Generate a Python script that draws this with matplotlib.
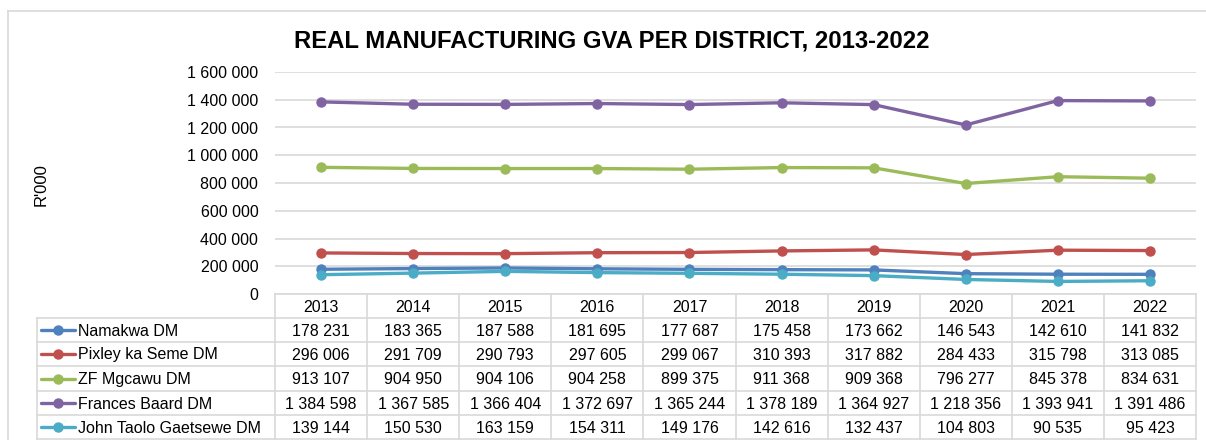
import matplotlib.pyplot as plt
import matplotlib.lines as mlines

plt.rcParams['font.family'] = ['Liberation Sans', 'DejaVu Sans']

years = ['2013', '2014', '2015', '2016', '2017', '2018', '2019', '2020', '2021', '2022']
districts = ['Namakwa DM', 'Pixley ka Seme DM', 'ZF Mgcawu DM', 'Frances Baard DM', 'John Taolo Gaetsewe DM']
namakwa = [178231, 183365, 187588, 181695, 177687, 175458, 173662, 146543, 142610, 141832]
pixley = [296006, 291709, 290793, 297605, 299067, 310393, 317882, 284433, 315798, 313085]
zf_mgcawu = [913107, 904950, 904106, 904258, 899375, 911368, 909368, 796277, 845378, 834631]
frances = [1384598, 1367585, 1366404, 1372697, 1365244, 1378189, 1364927, 1218356, 1393941, 1391486]
john_taolo = [139144, 150530, 163159, 154311, 149176, 142616, 132437, 104803, 90535, 95423]
series = [namakwa, pixley, zf_mgcawu, frances, john_taolo]
colors = ['#4f81bd', '#c0504d', '#9bbb59', '#8064a2', '#4bacc6']
yticks = [0, 200000, 400000, 600000, 800000, 1000000, 1200000, 1400000, 1600000]

W, H = 1206, 440
fig = plt.figure(figsize=(W / 100, H / 100), dpi=100)

def fx(px):
    return px / W

def fy(py):
    return 1 - py / H

# plot area
x0, x1, ytop, ybot = 275, 1196, 72, 294
ax = fig.add_axes([fx(x0), fy(ybot), fx(x1) - fx(x0), fy(ytop) - fy(ybot)])
xs = list(range(len(years)))
for vals, c, name in zip(series, colors, districts):
    ax.plot(xs, vals, color=c, lw=2.4, marker='o', ms=6.5, label=name, solid_capstyle='round')
ax.set_xlim(-0.5, len(years) - 0.5)
ax.set_ylim(0, 1600000)
ax.set_yticks(yticks)
ax.set_yticklabels([f'{v:,}'.replace(',', ' ') for v in yticks], fontsize=11.5)
ax.set_xticks([])
ax.tick_params(axis='y', length=0, pad=12)
ax.grid(axis='y', color='#d9d9d9', lw=1.2)
ax.set_axisbelow(True)
for s in ax.spines.values():
    s.set_visible(False)

fig.text(fx(612), fy(41), 'REAL MANUFACTURING GVA PER DISTRICT, 2013-2022',
         ha='center', va='center', fontsize=17.2, fontweight='bold')
fig.text(fx(41), fy(185), "R'000", rotation=90, ha='center', va='center', fontsize=12)

# data table below the plot
gc = '#d9d9d9'
fs = 11.5
col_w = (x1 - x0) / len(years)
row_edges = [294, 318, 342, 366, 391, 415, 439]
leg_x = 37
# horizontal lines
fig.add_artist(mlines.Line2D([fx(x0), fx(x1)], [fy(row_edges[0])] * 2, color=gc, lw=1.2))
for r in row_edges[1:]:
    fig.add_artist(mlines.Line2D([fx(leg_x), fx(x1)], [fy(r)] * 2, color=gc, lw=1.2))
# vertical lines
for i in range(len(years) + 1):
    xx = x0 + i * col_w
    fig.add_artist(mlines.Line2D([fx(xx)] * 2, [fy(row_edges[0]), fy(row_edges[-1])], color=gc, lw=1.2))
fig.add_artist(mlines.Line2D([fx(leg_x)] * 2, [fy(row_edges[1]), fy(row_edges[-1])], color=gc, lw=1.2))

for i, yr in enumerate(years):
    cx = x0 + (i + 0.5) * col_w
    fig.text(fx(cx), fy((row_edges[0] + row_edges[1]) / 2 + 1), yr, ha='center', va='center', fontsize=fs)

for j, (vals, c, name) in enumerate(zip(series, colors, districts)):
    cy = (row_edges[j + 1] + row_edges[j + 2]) / 2
    fig.add_artist(mlines.Line2D([fx(41), fx(58), fx(75)], [fy(cy)] * 3, color=c, lw=2.4,
                                 marker='o', ms=6.5, markevery=[1], solid_capstyle='round'))
    fig.text(fx(78), fy(cy + 1), name, ha='left', va='center', fontsize=fs)
    for i, v in enumerate(vals):
        cx = x0 + (i + 0.5) * col_w
        fig.text(fx(cx), fy(cy + 1), f'{v:,}'.replace(',', ' '), ha='center', va='center', fontsize=fs)

# outer chart border
fig.add_artist(mlines.Line2D([fx(8), fx(W)], [fy(11)] * 2, color=gc, lw=1.2))
fig.add_artist(mlines.Line2D([fx(8)] * 2, [fy(11), fy(H)], color=gc, lw=1.2))

fig.savefig('out.png', dpi=100)
